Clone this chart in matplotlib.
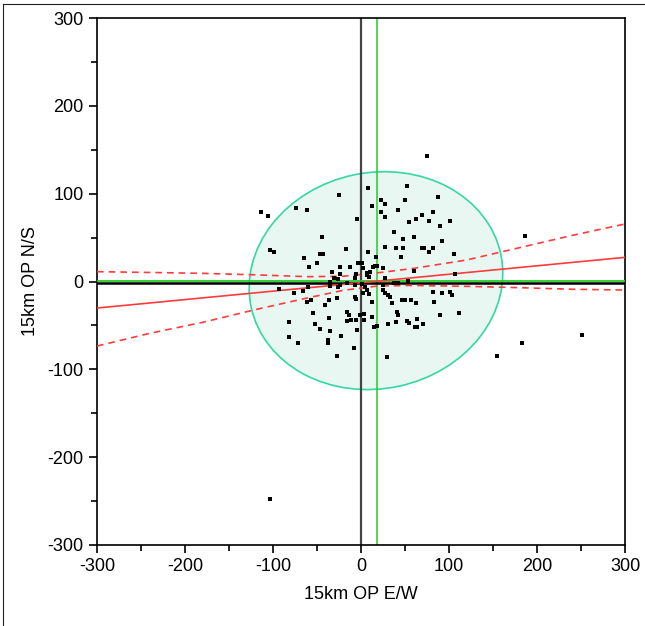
import matplotlib

matplotlib.use("Agg")
import matplotlib.pyplot as plt
from matplotlib.lines import Line2D
from matplotlib.patches import Ellipse
from matplotlib.ticker import MultipleLocator

plt.rcParams["font.family"] = ["Liberation Sans", "DejaVu Sans"]
plt.rcParams["axes.unicode_minus"] = False

# scatter points (E/W, N/S)
pts_x = [
    -113.6, -105.9, -73.5, -61.6, -25.3, 8.3, 12.5, -4.5, -44, -17, -103, -98.9, 8.3,
    -46.6, -43.5, -65, 16.7,
    75.4, 52.6, 23, 27.3, 50.4, 87.8, 23, 27.3, 42, 69, 81.8, 62.8, 54, 77, 100.8, 90,
    37.8, 48, 60.5, 92.4, 27.3, 39.8, 48, 69, 71.6, 81.8, 77, 105.3, 45.7,
    -58.7, -50, -24.4, -3.8, 0.8, 1.9, 18, -33, -24.4, -30.3, -25.8, -6.8, -35, 6.8, 9.4,
    0.8, 4.5, -92.8, -76, -65.6, -60.6, -35, -26.5, -23.9, -16.3, -61, -56.8, -36, -27.6,
    -6.4, 2.7, 9.4, -41.3, -54.9, -36, -15.6, -13.3, -11.7, -16.3, -5.7, -1.1, 3.8,
    -81.8, -52.3, -46.6, -22.7, -35.2, -4.9, 15.1, 18.5, -81.8, -71.2, -37.9, -37.9,
    -8.3, -27.6,
    -12.5, 15.9, 14, 25.3, -5.7, 6.4, 10.2, 27.3, 37.5, 42.4, 60.2, 106.8, 53.8, -6.8,
    -6.8, -5.7, 6.4, 25.3, 25.3, 27.6, 30.3, 33, 12.8, 34.9, 46.2, 50, 56.4, 62.8, 83.3,
    81.5, 92.4, 101.1, 103, 40.5, 42.4, 89.8, 111.4, 3.4, 12.2, 31, 39.8, 51.9, 54.5,
    63.3, 64, 61, 70.8, 29.2, 154.9,
    186.4, 251, 183, -103.4,
]
pts_y = [
    79.5, 75, 83.4, 81.4, 98.5, 106.8, 85.6, 70.8, 50.3, 37.4, 35.9, 33.6, 33.6,
    31.3, 31.3, 26.8, 27.6,
    143, 109, 92.5, 88.3, 92.5, 96.2, 79.5, 73.1, 81.8, 75.4, 79.5, 71.2, 67.4, 69.3,
    69.3, 62.9, 56.7, 48, 50.3, 46.1, 39.6, 37.8, 37.8, 37.8, 37.8, 37.8, 33.3, 31.3, 27.6,
    16.9, 20.7, 16.9, 20.7, 20.7, 15, 18, 10.8, 8.2, 3.6, 2.5, 3.6, 0, 9.3, 5.5,
    -3.2, -5.9, -8.5, -12.8, -10.5, -6.6, -5.1, -5.9, -4, -2.1, -23, -21.1, -21.1, -18.4,
    -18, -12.8, -14.2, -26.8, -35.5, -41.9, -34.4, -38.2, -43.8, -44.6, -43.8, -38.2, -43.8,
    -46.1, -48.4, -54.5, -61.7, -56, -55.2, -52.2, -50.7, -63.6, -69.7, -66.6, -69.7,
    -76.1, -84.9,
    16.9, 18, 16.2, 15, 8.2, 7.4, 11.2, 3.6, -1.4, -2.1, 12.3, 8.5, 0.9, -4,
    -17.3, -20.3, -9.7, -4, -9.7, -13.4, -15.4, -17.3, -23, -24.8, -21.1, -21.1, -21.1, -24.8, -23,
    -12.3, -12.8, -11.6, -15.4, -34.4, -38.2, -38.2, -35.5, -37.4, -40, -48.4, -46.5, -44.6, -47.6,
    -42.7, -52.2, -51.5, -48.4, -86.3, -84.5,
    51.8, -60.9, -70, -247.7,
]

# fitted line and its confidence curves
fit_x = [-300, 300]
fit_y = [-30.2, 27.5]
band_x = [-300, -240, -180, -120, -60, -20, 20, 60, 120, 180, 240, 300]
band_hi = [11.2, 10.3, 9.3, 7.6, 5.5, 6.0, 10.0, 15.0, 24.5, 38.5, 52.5, 65.5]
band_lo = [-73.5, -59, -46.5, -32, -18.5, -10, -5, -4.5, -5.5, -7, -8.8, -9.7]

# means and density ellipse
mean_x = 18
mean_y = 0.5
ell_center = (17, 1)
ell_w, ell_h, ell_angle = 290, 246, 12

fig = plt.figure(figsize=(6.45, 6.26), dpi=100)
ax = fig.add_axes([0.1504, 0.1294, 0.8186, 0.8418])

ax.add_patch(Ellipse(ell_center, ell_w, ell_h, angle=ell_angle,
                     facecolor="#e8f7f2", edgecolor="#33d99f", lw=1.2, zorder=1))

ax.axvline(0, color="#444444", lw=1.6, zorder=2)
ax.axvline(mean_x, color="#22cc22", lw=1.1, zorder=2)
ax.axhline(mean_y - 2, color="black", lw=1.8, zorder=2)
ax.axhline(mean_y, color="#22cc22", lw=1.3, zorder=3)

ax.plot(fit_x, fit_y, color="#ff3b3b", lw=1.2, zorder=4)
ax.plot(band_x, band_hi, color="#ff3b3b", lw=1.2, ls=(0, (4, 3)), zorder=4)
ax.plot(band_x, band_lo, color="#ff3b3b", lw=1.2, ls=(0, (4, 3)), zorder=4)

ax.scatter(pts_x, pts_y, marker="s", s=7, color="black", lw=0, zorder=5)

ax.set_xlim(-300, 300)
ax.set_ylim(-300, 300)
ax.xaxis.set_major_locator(MultipleLocator(100))
ax.xaxis.set_minor_locator(MultipleLocator(50))
ax.yaxis.set_major_locator(MultipleLocator(100))
ax.yaxis.set_minor_locator(MultipleLocator(50))
ax.tick_params(which="major", length=6, width=1.2, labelsize=13, direction="out")
ax.tick_params(which="minor", length=4, width=1.2, direction="out")
for s in ax.spines.values():
    s.set_linewidth(1.2)

ax.set_xlabel("15km OP E/W", fontsize=13, labelpad=8)
ax.set_ylabel("15km OP N/S", fontsize=13, labelpad=6)

# outer report frame
fig.add_artist(Line2D([0.0054, 0.0054], [0, 0.9944], transform=fig.transFigure,
                      color="#222222", lw=0.8))
fig.add_artist(Line2D([0.0054, 1], [0.9944, 0.9944], transform=fig.transFigure,
                      color="#222222", lw=0.8))

fig.savefig("out.png", dpi=100)
